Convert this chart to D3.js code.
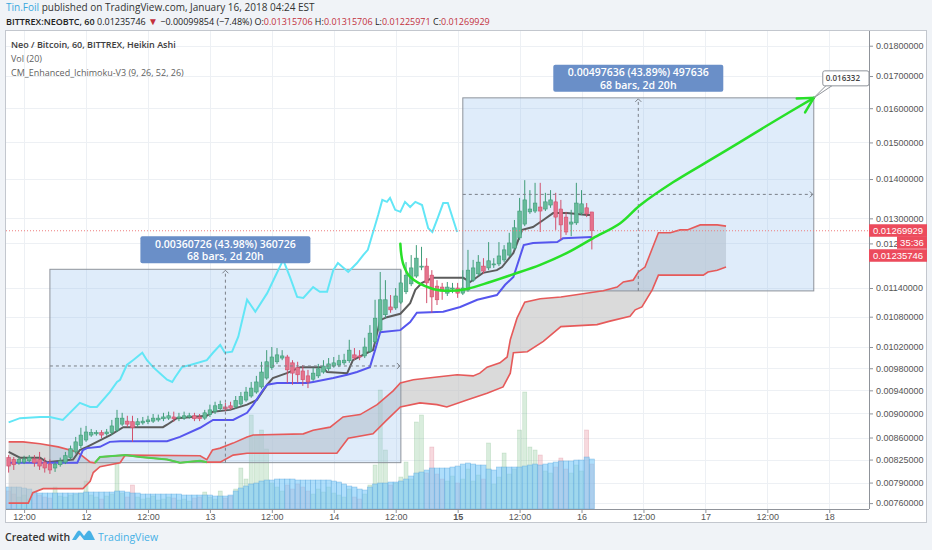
<!DOCTYPE html>
<html>
<head>
<meta charset="utf-8">
<script src="https://cdn.jsdelivr.net/npm/d3@7"></script>
<style>
  body { margin: 0; background: #f0f3f7; }
  svg { display: block; font-family: "Open Sans", sans-serif; }
</style>
</head>
<body>
<svg id="chart" width="932" height="550"></svg>
<script>
// ---- data (hourly Heikin Ashi bars, NEO/BTC, first bar 11 Jan 09:00) ----
const barStart = new Date(2018, 0, 11, 9);

const haOpen = [
  0.00828,0.00825,0.00820,0.00821,0.00823,0.00826,0.00825,0.00821,0.00818,0.00812,
  0.00817,0.00821,0.00828,0.00837,0.00847,0.00856,0.00864,0.00866,0.00868,0.00866,
  0.00868,0.00872,0.00882,0.00887,0.00886,0.00881,0.00884,0.00886,0.00887,0.00889,
  0.00891,0.00892,0.00894,0.00892,0.00892,0.00894,0.00896,0.00894,0.00892,0.00898,
  0.00903,0.00908,0.00911,0.00913,0.00911,0.00916,0.00923,0.00930,0.00937,0.00946,
  0.00962,0.00981,0.00992,0.00999,0.01001,0.00990,0.00981,0.00975,0.00966,0.00960,
  0.00966,0.00973,0.00979,0.00984,0.00986,0.00990,0.00994,0.01005,0.01003,0.01003,
  0.01012,0.01030,0.01053,0.01084,0.01100,0.01098,0.01110,0.01132,0.01149,0.01166,
  0.01186,0.01188,0.01168,0.01144,0.01142,0.01129,0.01138,0.01140,0.01129,0.01136,
  0.01157,0.01171,0.01188,0.01184,0.01191,0.01193,0.01202,0.01213,0.01229,0.01253,
  0.01286,0.01316,0.01318,0.01328,0.01323,0.01333,0.01341,0.01323,0.01303,0.01286,
  0.01289,0.01313,0.01326,0.01315706
];
const haClose = [
  0.00815,0.00817,0.00825,0.00826,0.00828,0.00820,0.00815,0.00812,0.00809,0.00818,
  0.00823,0.00831,0.00842,0.00853,0.00864,0.00869,0.00868,0.00868,0.00864,0.00869,
  0.00879,0.00892,0.00892,0.00882,0.00876,0.00886,0.00887,0.00889,0.00892,0.00892,
  0.00894,0.00896,0.00891,0.00894,0.00896,0.00896,0.00891,0.00891,0.00901,0.00906,
  0.00913,0.00915,0.00908,0.00909,0.00922,0.00929,0.00937,0.00944,0.00955,0.00973,
  0.00992,0.01001,0.01005,0.01003,0.00977,0.00971,0.00968,0.00959,0.00955,0.00971,
  0.00979,0.00984,0.00988,0.00990,0.00994,0.00995,0.01014,0.00999,0.01001,0.01020,
  0.01047,0.01077,0.01115,0.01115,0.01094,0.01123,0.01151,0.01168,0.01184,0.01206,
  0.01188,0.01151,0.01121,0.01115,0.01134,0.01142,0.01140,0.01129,0.01140,0.01179,
  0.01184,0.01197,0.01177,0.01200,0.01193,0.01211,0.01225,0.01241,0.01277,0.01318,
  0.01346,0.01323,0.01338,0.01318,0.01341,0.01346,0.01303,0.01284,0.01267,0.01291,
  0.01338,0.01336,0.01311,0.01269929
];
const haHigh = [
  0.00832,0.00829,0.00829,0.00831,0.00832,0.00832,0.00837,0.00828,0.00825,0.00821,
  0.00828,0.00837,0.00847,0.00861,0.00876,0.00879,0.00874,0.00872,0.00872,0.00874,
  0.00889,0.00906,0.00901,0.00896,0.00896,0.00892,0.00894,0.00896,0.00899,0.00898,
  0.00901,0.00903,0.00903,0.00901,0.00903,0.00901,0.00901,0.00899,0.00906,0.00915,
  0.00920,0.00922,0.00918,0.00920,0.00930,0.00937,0.00946,0.00955,0.00966,0.00992,
  0.01014,0.01020,0.01018,0.01014,0.01005,0.00995,0.00992,0.00986,0.00977,0.00981,
  0.00988,0.00995,0.00999,0.01001,0.01005,0.01007,0.01034,0.01018,0.01014,0.01038,
  0.01063,0.01115,0.01175,0.01157,0.01125,0.01140,0.01179,0.01197,0.01213,0.01236,
  0.01232,0.01206,0.01179,0.01157,0.01151,0.01153,0.01151,0.01151,0.01179,0.01225,
  0.01202,0.01213,0.01206,0.01243,0.01206,0.01243,0.01236,0.01265,0.01296,0.01351,
  0.01397,0.01371,0.01390,0.01390,0.01364,0.01371,0.01364,0.01346,0.01316,0.01321,
  0.01390,0.01371,0.01338,0.01315706
];
const haLow = [
  0.00805,0.00809,0.00817,0.00818,0.00820,0.00814,0.00809,0.00805,0.00803,0.00806,
  0.00814,0.00818,0.00825,0.00834,0.00843,0.00853,0.00861,0.00863,0.00859,0.00863,
  0.00864,0.00869,0.00879,0.00877,0.00853,0.00877,0.00881,0.00882,0.00884,0.00886,
  0.00887,0.00889,0.00886,0.00887,0.00889,0.00891,0.00887,0.00887,0.00889,0.00894,
  0.00899,0.00904,0.00904,0.00906,0.00908,0.00913,0.00920,0.00927,0.00934,0.00943,
  0.00959,0.00977,0.00988,0.00995,0.00953,0.00950,0.00953,0.00948,0.00944,0.00957,
  0.00962,0.00970,0.00975,0.00981,0.00982,0.00986,0.00990,0.00995,0.00995,0.00999,
  0.01009,0.01026,0.01049,0.01077,0.01088,0.01094,0.01106,0.01127,0.01144,0.01162,
  0.01179,0.01108,0.01088,0.01104,0.01115,0.01123,0.01129,0.01119,0.01125,0.01132,
  0.01153,0.01166,0.01171,0.01179,0.01184,0.01188,0.01197,0.01209,0.01225,0.01248,
  0.01281,0.01311,0.01313,0.01267,0.01318,0.01326,0.01272,0.01248,0.01260,0.01257,
  0.01284,0.01308,0.01303,0.01225971
];

// volume and its 20-bar average (arbitrary units)
const volume = [
  18,15,12,14,10,16,14,12,11,22, 13,12,14,15,16,28,14,12,10,13,
  15,46,16,12,24,12,10,11,13,9,  10,12,11,9,10,8,11,12,17,12,
  10,18,11,13,20,41,30,94,74,79, 60,26,22,18,24,20,25,22,18,15,
  20,17,22,16,14,12,20,12,10,15, 24,44,119,59,24,26,32,47,30,87,
  94,36,62,35,30,28,33,26,30,40, 28,34,30,66,25,32,56,35,40,79,
  117,62,59,54,38,36,42,51,40,36, 44,38,79,45
];
const volMA = [
  22,22,22,21,20,17,16,16,16,16, 16,16,16,16,16,17,17,17,17,17,
  17,18,18,17,16,16,15,15,15,15, 15,15,15,15,14,14,14,14,14,14,
  13,13,13,14,18,21,23,25,26,28, 29,29,30,30,30,30,29,29,29,29,
  29,29,29,28,27,25,23,22,20,19, 22,25,26,26,27,27,28,30,33,36,
  37,39,41,41,41,41,42,43,45,46, 45,44,44,40,39,42,42,42,42,42,
  43,44,45,44,45,46,47,48,48,48, 49,49,52,50
];

// Ichimoku lines as [bar, price] vertices
const tenkan = [[0,.00820],[13.3,.00820],[14.4,.00840],[15.2,.00843],[17.7,.00845],[19.6,.00853],[21.6,.00854],[30.7,.00854],[33.2,.00861],[37.1,.00876],[39.6,.00889],[43.5,.00889],[46.2,.00901],[47.4,.00915],[49.3,.00941],[50.1,.00950],[52,.00953],[57.8,.00953],[59,.00955],[62.9,.00962],[65.6,.00968],[67.5,.00973],[70,.00982],[71,.01014],[72,.01049],[75.9,.01053],[77.8,.01069],[79.1,.01088],[84.2,.01090],[87.5,.01100],[90.8,.01115],[94.6,.01125],[96.2,.01147],[97.8,.01164],[99.8,.01236],[101.6,.01241],[106.3,.01243],[107.4,.01252],[113,.01255]];
const kijun = [[0,.00837],[2.2,.00828],[6.1,.00828],[7.4,.00821],[12.5,.00825],[13.8,.00840],[15.2,.00845],[19.7,.00864],[22.2,.00877],[29.9,.00877],[30.7,.00881],[32.6,.00892],[38.4,.00896],[39.6,.00903],[42.9,.00906],[46.2,.00915],[48.1,.00923],[50.1,.00950],[51.2,.00962],[53.9,.00971],[56.5,.00982],[60.9,.00982],[61.7,.00973],[65.6,.00971],[66.7,.00995],[69.5,.01009],[70.6,.01014],[72,.01073],[73.3,.01079],[75.9,.01086],[77.8,.01108],[78.8,.01136],[80.1,.01151],[82.2,.01162],[88.1,.01162],[89.4,.01153],[90.8,.01164],[91.9,.01173],[94.6,.01179],[95.6,.01186],[97.8,.01218],[99.5,.01272],[101.6,.01279],[103.6,.01296],[105.5,.01313],[108.2,.01313],[112.1,.01308],[113,.01308]];
const chikou = [[0,.00885],[2.2,.00892],[6.1,.00894],[8,.00894],[10.5,.00889],[13.8,.00918],[15.8,.00911],[17.1,.00911],[19.6,.00937],[21,.00955],[21.6,.00959],[22.9,.00986],[24.1,.00995],[25.9,.01009],[26.8,.00995],[28,.00982],[29.3,.00971],[30.7,.00959],[31.7,.00955],[32.3,.00964],[33.6,.00982],[35.2,.00986],[38.4,.00995],[39.6,.01009],[41,.01024],[41.9,.01009],[43.3,.01011],[44.5,.01040],[46.2,.01115],[47.8,.01090],[50.1,.01129],[51.6,.01164],[53.2,.01202],[54.5,.01164],[55.9,.01121],[57.1,.01119],[59,.01142],[60.3,.01132],[61.7,.01132],[62.9,.01179],[63.8,.01195],[65.8,.01175],[67.5,.01195],[68.7,.01213],[69.6,.01225],[71.6,.01308],[72.4,.01346],[73.3,.01341],[73.9,.01351],[74.9,.01321],[75.9,.01316],[76.8,.01341],[77.8,.01328],[78.8,.01341],[80.1,.01333],[81.3,.01276],[82.1,.01267],[83.2,.01303],[84.2,.01338],[85.1,.01338],[86.9,.01267]];
const spanA = [[0,.00853],[2.8,.00853],[6.1,.00850],[9.6,.00845],[13.3,.00837],[15.8,.00821],[16.7,.00820],[17.7,.00829],[22.6,.00832],[25.5,.00829],[30.7,.00825],[33.2,.00820],[37.1,.00823],[38.4,.00821],[41,.00821],[43.5,.00832],[46.2,.00835],[63.6,.00835],[65.8,.00859],[70.6,.00866],[73.3,.00889],[75.9,.00911],[79.7,.00918],[83,.00915],[84.9,.00911],[88.8,.00923],[92.7,.00935],[95.8,.00946],[97.2,.00971],[97.8,.01009],[100.5,.01011],[103.6,.01031],[107,.01060],[114,.01064],[116.5,.01071],[120.4,.01081],[121.4,.01094],[122.7,.01100],[124.7,.01136],[125.9,.01168],[134.6,.01168],[135.5,.01175],[137.3,.01179],[139,.01186]];
const spanB = [[0,.00760],[3.8,.00760],[4.7,.00775],[6.7,.00781],[14.4,.00781],[15.8,.00792],[16.4,.00805],[17.7,.00814],[21.6,.00820],[22.6,.00832],[37.1,.00831],[38.4,.00825],[39.5,.00840],[41,.00843],[43.5,.00851],[46.2,.00861],[47.4,.00864],[57.1,.00866],[59,.00872],[62.3,.00877],[64.8,.00894],[68.1,.00898],[71.4,.00915],[74.5,.00939],[75.9,.00953],[78.4,.00959],[83,.00964],[86.9,.00968],[90,.00966],[91.3,.00971],[92.7,.00982],[95.2,.00990],[96.6,.01001],[97.2,.01034],[98.5,.01077],[100,.01110],[103,.01117],[107,.01121],[115.2,.01134],[117.9,.01142],[119.1,.01153],[121,.01157],[122,.01175],[123.3,.01186],[125.9,.01265],[128.2,.01265],[130.1,.01272],[131.5,.01272],[134,.01284],[137.3,.01284],[139,.01281]];
const spanAGreen = [16.7, 38.4];   // bars where span A is drawn green

// drawings
const measures = [
  { from: 8,  to: 76,  low: 0.0082021, high: 0.0118094, text: ["0.00360726 (43.98%) 360726", "68 bars, 2d 20h"] },
  { from: 88, to: 156, low: 0.011338,  high: 0.016315,  text: ["0.00497636 (43.89%) 497636", "68 bars, 2d 20h"] }
];
const curvePts = [[75.9,.01239],[76.4,.01195],[77.8,.01164],[82.2,.01138],[85.5,.01134],[88.8,.01138],[93.3,.01153],[97.8,.01170],[103,.01191],[108.2,.01218],[113.2,.01252],[118.5,.01288],[122.4,.01333],[128.8,.01392],[135.3,.01446],[141.7,.01501],[148.1,.01559],[156,.016315]];
const curveNote = "0.016332";

const lastClose = 0.01269929, lastPrice = 0.01235746, countdown = "35:36";
const priceTicks = [0.0076,0.0079,0.00825,0.0086,0.009,0.0094,0.0098,0.0102,0.0108,0.0114,0.0124,0.013,0.014,0.015,0.016,0.017,0.018];
const timeTicks = d3.timeHour.every(12).range(new Date(2018,0,11,12), new Date(2018,0,18,1));

// ---- layout ----
const W = 932, H = 550;
const pl = 6, pr = 869, pt = 31, pb = 509;
const barT = k => new Date(barStart.getTime() + k * 3600e3);

const x = d3.scaleTime().domain([barT(-0.12), barT(166.7)]).range([8, pr]);
const y = d3.scaleLog().domain([0.007516, 0.018506]).range([pb, pt]);
const yv = d3.scaleLinear().domain([0, 130]).range([pb, pb - 130]);
const bx = k => x(barT(k));
const line = d3.line().x(d => bx(d[0])).y(d => y(d[1]));

const svg = d3.select("#chart");
svg.append("rect").attr("width", W).attr("height", H).attr("fill", "#f0f3f7");
svg.append("rect").attr("x", 5.5).attr("y", 30.5).attr("width", 921).attr("height", 492)
  .attr("fill", "#fff").attr("stroke", "#c3c7ce");

svg.append("defs").append("clipPath").attr("id", "clip")
  .append("rect").attr("x", pl).attr("y", pt).attr("width", pr - pl).attr("height", pb - pt);

// grid
const grid = svg.append("g").attr("stroke", "#edf0f4").attr("stroke-width", 1);
grid.selectAll(null).data(priceTicks).join("line")
  .attr("x1", pl).attr("x2", pr).attr("y1", d => Math.round(y(d)) + 0.5).attr("y2", d => Math.round(y(d)) + 0.5);
grid.selectAll(null).data(timeTicks).join("line")
  .attr("y1", pt).attr("y2", pb).attr("x1", d => Math.round(x(d)) + 0.5).attr("x2", d => Math.round(x(d)) + 0.5);

const plot = svg.append("g").attr("clip-path", "url(#clip)");
const step = bx(1) - bx(0);

// volume
plot.append("g").selectAll(null).data(volume).join("rect")
  .attr("x", (d, i) => bx(i) - 2).attr("width", 4)
  .attr("y", d => yv(d)).attr("height", d => pb - yv(d))
  .attr("fill", (d, i) => haClose[i] >= haOpen[i] ? "rgba(110,185,125,0.26)" : "rgba(225,120,135,0.28)")
  .attr("stroke", (d, i) => haClose[i] >= haOpen[i] ? "rgba(90,165,105,0.28)" : "rgba(205,100,115,0.32)")
  .attr("stroke-width", 0.6);
plot.append("g").selectAll(null).data(volMA).join("rect")
  .attr("x", (d, i) => bx(i) - step / 2).attr("width", step)
  .attr("y", d => yv(d)).attr("height", d => pb - yv(d))
  .attr("fill", "rgba(120,200,248,0.6)").attr("stroke", "rgba(75,155,215,0.5)").attr("stroke-width", 0.6);

// cloud
plot.append("path")
  .attr("d", line(spanA.concat(spanB.slice().reverse())) + "Z")
  .attr("fill", "#c2c2c2").attr("fill-opacity", 0.6).attr("fill-rule", "evenodd");

// measurement boxes
measures.forEach(m => {
  plot.append("rect")
    .attr("x", bx(m.from)).attr("width", bx(m.to) - bx(m.from))
    .attr("y", y(m.high)).attr("height", y(m.low) - y(m.high))
    .attr("fill", "rgba(150,192,240,0.3)").attr("stroke", "#8e939b").attr("stroke-width", 1);
});

plot.append("path").attr("d", line(spanB)).attr("fill", "none").attr("stroke", "#e65a5a").attr("stroke-width", 1.6);
plot.append("path").attr("d", line(spanA)).attr("fill", "none").attr("stroke", "#e65a5a").attr("stroke-width", 1.6);
plot.append("path").attr("d", line(spanA.filter(d => d[0] >= spanAGreen[0] && d[0] <= spanAGreen[1])))
  .attr("fill", "none").attr("stroke", "#4fd14f").attr("stroke-width", 2);

plot.append("path").attr("d", line(chikou)).attr("fill", "none").attr("stroke", "#62e6f6").attr("stroke-width", 2);
plot.append("path").attr("d", line(kijun)).attr("fill", "none").attr("stroke", "#5c5c5c").attr("stroke-width", 2);
plot.append("path").attr("d", line(tenkan)).attr("fill", "none").attr("stroke", "#5656ee").attr("stroke-width", 2);

// candles
const bars = haOpen.map((o, i) => ({ i, o, c: haClose[i], h: haHigh[i], l: haLow[i] }));
const cg = plot.append("g").selectAll(null).data(bars).join("g")
  .attr("stroke", d => d.c >= d.o ? "#3f9c78" : "#d24f6c");
cg.append("line").attr("x1", d => bx(d.i)).attr("x2", d => bx(d.i))
  .attr("y1", d => y(d.h)).attr("y2", d => y(d.l)).attr("stroke-width", 1);
cg.append("rect").attr("x", d => bx(d.i) - 1.8).attr("width", 3.6)
  .attr("y", d => y(Math.max(d.o, d.c)))
  .attr("height", d => Math.max(1, Math.abs(y(d.o) - y(d.c))))
  .attr("fill", d => d.c >= d.o ? "#66bb9a" : "#e5728c").attr("stroke-width", 0.6);

// measurement arrows and labels
measures.forEach(m => {
  const x0 = bx(m.from), x1 = bx(m.to), y0 = y(m.low), y1 = y(m.high);
  const mx = (x0 + x1) / 2, my = (y0 + y1) / 2;
  const g = plot.append("g").attr("stroke", "#7a7f87").attr("fill", "none").attr("stroke-width", 1);
  g.append("line").attr("x1", mx).attr("x2", mx).attr("y1", y0).attr("y2", y1 + 1).attr("stroke-dasharray", "3,3");
  g.append("line").attr("x1", x0).attr("x2", x1 - 1).attr("y1", my).attr("y2", my).attr("stroke-dasharray", "3,3");
  g.append("path").attr("d", `M${mx - 3},${y1 + 4}L${mx},${y1 + 1}L${mx + 3},${y1 + 4}`);
  g.append("path").attr("d", `M${x1 - 4},${my - 3}L${x1 - 1},${my}L${x1 - 4},${my + 3}`);
  const lw = 170, lh = 27;
  const lab = svg.append("g").attr("transform", `translate(${mx - lw / 2},${y1 - 6 - lh})`);
  lab.append("rect").attr("width", lw).attr("height", lh).attr("rx", 2).attr("fill", "#6a8fc8");
  lab.selectAll(null).data(m.text).join("text")
    .attr("x", lw / 2).attr("y", (d, i) => 11.5 + i * 12.5).attr("text-anchor", "middle")
    .attr("fill", "#fff").attr("font-size", "10.5px").attr("font-weight", 600).text(d => d);
});

// last-price dotted line
plot.append("line").attr("x1", pl).attr("x2", pr).attr("y1", y(lastClose)).attr("y2", y(lastClose))
  .attr("stroke", "#ee7d7d").attr("stroke-width", 1).attr("stroke-dasharray", "1,2");

// green curve with arrow
const cpx = curvePts.map(d => [bx(d[0]), y(d[1])]);
svg.append("path").attr("d", d3.line().curve(d3.curveCatmullRom)(cpx))
  .attr("fill", "none").attr("stroke", "#28e028").attr("stroke-width", 2.5).attr("stroke-linecap", "round");
const [ex, ey] = cpx[cpx.length - 1], [qx, qy] = cpx[cpx.length - 2];
const ang = Math.atan2(ey - qy, ex - qx);
const barb = a => [ex - 17 * Math.cos(ang + a), ey - 17 * Math.sin(ang + a)];
const b1 = barb(0.5), b2 = barb(-0.5);
svg.append("path").attr("d", `M${b1[0]},${b1[1]}L${ex},${ey}L${b2[0]},${b2[1]}`)
  .attr("fill", "none").attr("stroke", "#28e028").attr("stroke-width", 2.5).attr("stroke-linecap", "round");

// note callout
const note = svg.append("g");
note.append("path").attr("d", `M${ex},${ey}L${ex + 13},${ey - 13}L${ex + 18},${ey - 12}Z`)
  .attr("fill", "#fff").attr("stroke", "#8f939a");
note.append("rect").attr("x", ex + 9).attr("y", ey - 27).attr("width", pr - ex - 9).attr("height", 15).attr("rx", 2)
  .attr("fill", "#fff").attr("stroke", "#8f939a");
note.append("text").attr("x", ex + 12).attr("y", ey - 16.5).attr("font-size", "8px").attr("font-weight", 600)
  .attr("fill", "#444").text(curveNote);

// axes
const yAxis = svg.append("g").attr("transform", `translate(${pr},0)`)
  .call(d3.axisRight(y).tickValues(priceTicks).tickFormat(d => d.toFixed(8)).tickSize(4).tickSizeOuter(0).tickPadding(3));
yAxis.select(".domain").attr("stroke", "#8f939a").attr("d", `M0.5,${pt}V${pb}`);
yAxis.selectAll(".tick line").attr("stroke", "#8f939a");
yAxis.selectAll("text").attr("font-family", "'Liberation Sans', Arial, sans-serif").attr("font-size", "9px").attr("fill", "#555");

const fmtTime = d => d.getHours() === 0 ? String(d.getDate()) : "12:00";
const xAxis = svg.append("g").attr("transform", `translate(0,${pb})`)
  .call(d3.axisBottom(x).tickValues(timeTicks).tickFormat(fmtTime).tickSize(4).tickSizeOuter(0).tickPadding(1));
xAxis.select(".domain").attr("stroke", "#8f939a").attr("d", `M${pl},0.5H${pr}`);
xAxis.selectAll(".tick line").attr("stroke", "#8f939a");
xAxis.selectAll("text").attr("font-family", "'Liberation Sans', Arial, sans-serif").attr("font-size", "9px").attr("fill", "#555")
  .attr("font-weight", d => d.getHours() === 0 && d.getDate() === 15 ? "bold" : null);

// price tags on the scale
const tags = [
  { v: lastClose, text: lastClose.toFixed(8), x: pr, w: 58, dy: 0 },
  { v: lastClose, text: countdown, x: 897, w: 30, dy: 12 },
  { v: lastClose, text: lastPrice.toFixed(8), x: pr, w: 58, dy: 25 }
];
const tg = svg.append("g").selectAll(null).data(tags).join("g")
  .attr("transform", d => `translate(${d.x},${y(d.v) + d.dy - 6.5})`);
tg.append("rect").attr("width", d => d.w).attr("height", 12.5).attr("fill", "#ec4b5c");
tg.append("text").attr("x", d => d.w / 2).attr("y", 9.5).attr("text-anchor", "middle")
  .attr("font-family", "'Liberation Sans', Arial, sans-serif").attr("font-size", "9.5px").attr("fill", "#fff").text(d => d.text);

// header
const hdr = svg.append("text").attr("x", 6).attr("y", 11).attr("font-size", "10px").attr("fill", "#333");
hdr.append("tspan").attr("fill", "#3aa8de").text("Tin.Foil");
hdr.append("tspan").text(" published on TradingView.com, January 16, 2018 04:24 EST");

const red = "#c3303c";
const h2 = svg.append("text").attr("x", 6).attr("y", 25).attr("font-size", "9px").attr("fill", "#222");
h2.append("tspan").attr("font-weight", 600).text("BITTREX:NEOBTC, 60");
h2.append("tspan").text(" 0.01235746 ");
h2.append("tspan").attr("fill", red).attr("font-size", "10px").text("▼");
h2.append("tspan").text(" −0.00099854 (−7.48%) ");
[["O:", "0.01315706"], [" H:", "0.01315706"], [" L:", "0.01225971"], [" C:", "0.01269929"]].forEach(([k, v]) => {
  h2.append("tspan").text(k);
  h2.append("tspan").attr("fill", red).text(v);
});

const legend = ["Neo / Bitcoin, 60, BITTREX, Heikin Ashi", "Vol (20)", "CM_Enhanced_Ichimoku-V3 (9, 26, 52, 26)"];
svg.append("g").selectAll(null).data(legend).join("text")
  .attr("x", 11).attr("y", (d, i) => [48, 61.5, 76][i]).attr("font-size", "9px")
  .attr("font-weight", (d, i) => i === 0 ? 600 : null)
  .attr("fill", (d, i) => i === 0 ? "#3d3d3d" : "#5f5f5f").text(d => d);

// footer
svg.append("text").attr("x", 5).attr("y", 541).attr("font-size", "10.5px").attr("font-weight", 600)
  .attr("fill", "#333").text("Created with");
svg.append("path")
  .attr("d", "M72,540 L77,532 Q79,529 81,532 L84,536 L87,532 Q89,529 91,532 L95,540 Z M76,540 L80,535 L84,540 Z")
  .attr("fill", "#46b1e6").attr("fill-rule", "evenodd");
svg.append("text").attr("x", 98).attr("y", 541).attr("font-size", "10.5px").attr("fill", "#46b1e6").text("TradingView");
</script>
</body>
</html>
